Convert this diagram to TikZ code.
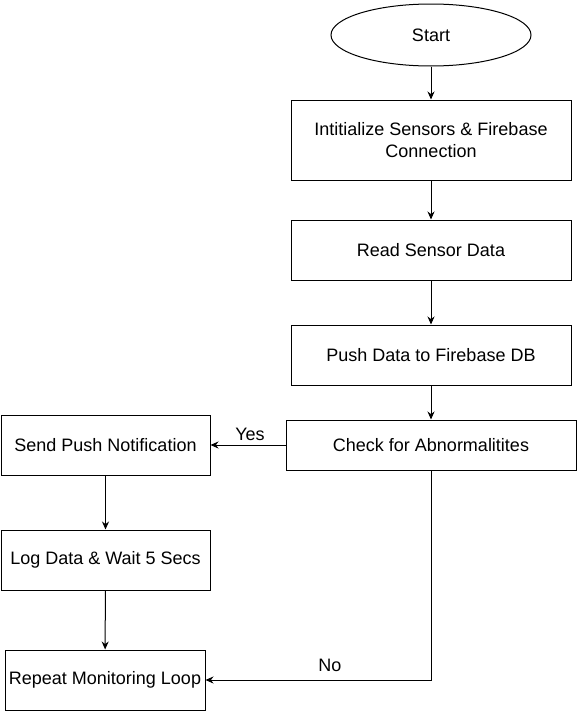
\documentclass[tikz,border=0pt]{standalone}
\usepackage{fontspec}
\setmainfont{Liberation Sans}
\usetikzlibrary{arrows.meta,positioning,shapes.geometric,calc}

\tikzset{
  flowbox/.style={draw, line width=1pt, rectangle, minimum height=60pt, inner sep=2pt, align=center, font=\fontsize{18}{22}\selectfont},
  flowarrow/.style={line width=1pt, -{Stealth[length=8pt,width=7pt]}},
  flowlabel/.style={font=\fontsize{18}{22}\selectfont}
}

\begin{document}
\begin{tikzpicture}[x=1pt, y=-1pt]
  % Frame
  \useasboundingbox (0,0) rectangle (577,712);

  % Main column
  \node[draw, line width=1pt, ellipse, minimum width=200pt, minimum height=62pt, inner sep=0pt, font=\fontsize{18}{22}\selectfont] (start) at (431,35) {Start};
  \node[flowbox, minimum width=280pt, minimum height=80pt] (init) at (431,140) {Intitialize Sensors \& Firebase\\Connection};
  \node[flowbox, minimum width=280pt] (read) at (431,250) {Read Sensor Data};
  \node[flowbox, minimum width=280pt] (push) at (431,355) {Push Data to Firebase DB};
  \node[flowbox, minimum width=290pt, minimum height=50pt] (check) at (431,445) {Check for Abnormalitites};

  % Left column
  \node[flowbox, minimum width=209pt] (notify) at (105.5,445) {Send Push Notification};
  \node[flowbox, minimum width=209pt] (logwait) at (105.5,560) {Log Data \& Wait 5 Secs};
  \node[flowbox, minimum width=200pt] (repeat) at (105,680) {Repeat Monitoring Loop};

  % Connectors
  \draw[flowarrow] (start) -- (init);
  \draw[flowarrow] (init) -- (read);
  \draw[flowarrow] (read) -- (push);
  \draw[flowarrow] (push) -- (check);
  \draw[flowarrow] (check.west) -- (notify.east);
  \draw[flowarrow] (notify) -- (logwait);
  \draw[flowarrow] (logwait) -- (repeat);
  \draw[flowarrow] (check.south) |- (repeat.east);

  % Branch labels
  \node[flowlabel] (yes) at (250,434) {Yes};
  \node[flowlabel] (no) at (330,665) {No};
\end{tikzpicture}
\end{document}
